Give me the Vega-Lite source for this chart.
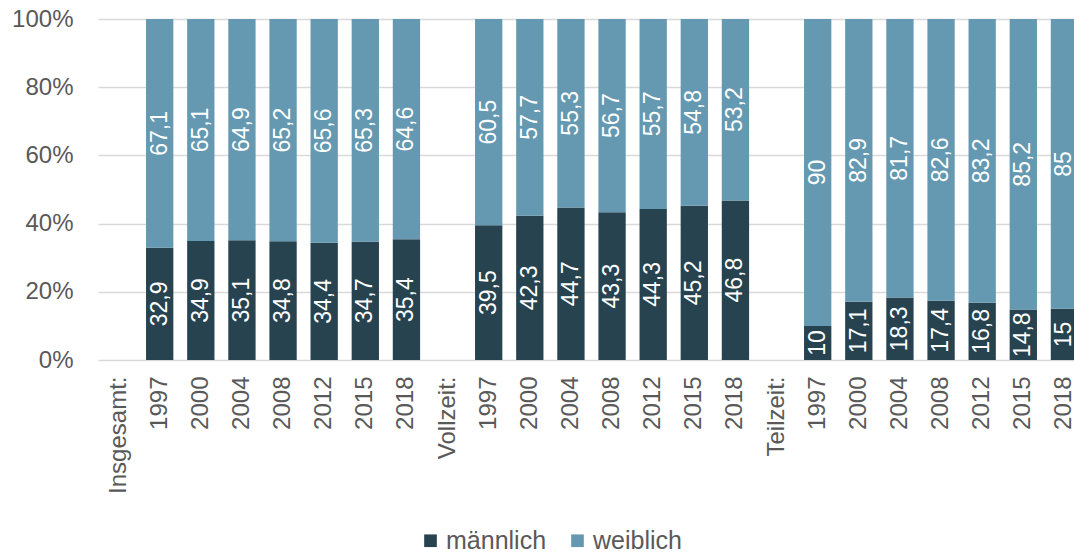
{
  "$schema": "https://vega.github.io/schema/vega-lite/v6.json",
  "autosize": {"type": "none"},
  "width": 976,
  "height": 341,
  "padding": {"left": 98, "top": 19, "right": 0, "bottom": 193},
  "config": {
    "font": "Liberation Sans",
    "view": {"stroke": null},
    "locale": {"number": {"decimal": ",", "thousands": ".", "grouping": [3], "currency": ["", " €"]}}
  },
  "data": {
    "values": [
      {"cat": "1997a", "sex": "männlich", "value": 32.9}, {"cat": "1997a", "sex": "weiblich", "value": 67.1},
      {"cat": "2000a", "sex": "männlich", "value": 34.9}, {"cat": "2000a", "sex": "weiblich", "value": 65.1},
      {"cat": "2004a", "sex": "männlich", "value": 35.1}, {"cat": "2004a", "sex": "weiblich", "value": 64.9},
      {"cat": "2008a", "sex": "männlich", "value": 34.8}, {"cat": "2008a", "sex": "weiblich", "value": 65.2},
      {"cat": "2012a", "sex": "männlich", "value": 34.4}, {"cat": "2012a", "sex": "weiblich", "value": 65.6},
      {"cat": "2015a", "sex": "männlich", "value": 34.7}, {"cat": "2015a", "sex": "weiblich", "value": 65.3},
      {"cat": "2018a", "sex": "männlich", "value": 35.4}, {"cat": "2018a", "sex": "weiblich", "value": 64.6},
      {"cat": "1997b", "sex": "männlich", "value": 39.5}, {"cat": "1997b", "sex": "weiblich", "value": 60.5},
      {"cat": "2000b", "sex": "männlich", "value": 42.3}, {"cat": "2000b", "sex": "weiblich", "value": 57.7},
      {"cat": "2004b", "sex": "männlich", "value": 44.7}, {"cat": "2004b", "sex": "weiblich", "value": 55.3},
      {"cat": "2008b", "sex": "männlich", "value": 43.3}, {"cat": "2008b", "sex": "weiblich", "value": 56.7},
      {"cat": "2012b", "sex": "männlich", "value": 44.3}, {"cat": "2012b", "sex": "weiblich", "value": 55.7},
      {"cat": "2015b", "sex": "männlich", "value": 45.2}, {"cat": "2015b", "sex": "weiblich", "value": 54.8},
      {"cat": "2018b", "sex": "männlich", "value": 46.8}, {"cat": "2018b", "sex": "weiblich", "value": 53.2},
      {"cat": "1997c", "sex": "männlich", "value": 10}, {"cat": "1997c", "sex": "weiblich", "value": 90},
      {"cat": "2000c", "sex": "männlich", "value": 17.1}, {"cat": "2000c", "sex": "weiblich", "value": 82.9},
      {"cat": "2004c", "sex": "männlich", "value": 18.3}, {"cat": "2004c", "sex": "weiblich", "value": 81.7},
      {"cat": "2008c", "sex": "männlich", "value": 17.4}, {"cat": "2008c", "sex": "weiblich", "value": 82.6},
      {"cat": "2012c", "sex": "männlich", "value": 16.8}, {"cat": "2012c", "sex": "weiblich", "value": 83.2},
      {"cat": "2015c", "sex": "männlich", "value": 14.8}, {"cat": "2015c", "sex": "weiblich", "value": 85.2},
      {"cat": "2018c", "sex": "männlich", "value": 15}, {"cat": "2018c", "sex": "weiblich", "value": 85}
    ]
  },
  "encoding": {
    "x": {
      "field": "cat",
      "type": "nominal",
      "scale": {
        "domain": ["Insgesamt:", "1997a", "2000a", "2004a", "2008a", "2012a", "2015a", "2018a",
                   "Vollzeit:", "1997b", "2000b", "2004b", "2008b", "2012b", "2015b", "2018b",
                   "Teilzeit:", "1997c", "2000c", "2004c", "2008c", "2012c", "2015c", "2018c"],
        "range": [0, 987],
        "paddingInner": 0.336,
        "paddingOuter": 0.168
      },
      "axis": {
        "title": null,
        "labelAngle": -90,
        "labelExpr": "length(datum.value) == 5 ? slice(datum.value, 0, 4) : datum.value",
        "labelFontSize": 24,
        "labelColor": "#595959",
        "labelPadding": 16,
        "ticks": false,
        "domain": false,
        "grid": false,
        "labelOverlap": false
      }
    },
    "y": {
      "field": "value",
      "type": "quantitative",
      "stack": "normalize",
      "scale": {"domain": [0, 1]},
      "axis": {
        "title": null,
        "format": ".0%",
        "values": [0, 0.2, 0.4, 0.6, 0.8, 1],
        "labelFontSize": 24,
        "labelColor": "#595959",
        "labelPadding": 25,
        "ticks": false,
        "domain": false,
        "gridColor": "#d9d9d9",
        "gridWidth": 1.3
      }
    },
    "order": {"field": "sex", "sort": "ascending"}
  },
  "layer": [
    {
      "mark": {"type": "bar"},
      "encoding": {
        "color": {
          "field": "sex",
          "type": "nominal",
          "scale": {"domain": ["männlich", "weiblich"], "range": ["#284350", "#6499b1"]},
          "legend": {
            "title": null,
            "orient": "none",
            "direction": "horizontal",
            "legendX": 320,
            "legendY": 509,
            "symbolType": "square",
            "symbolSize": 160,
            "symbolStrokeWidth": 0,
            "labelFontSize": 25,
            "labelColor": "#595959",
            "labelOffset": 3,
            "columnPadding": 18
          }
        }
      }
    },
    {
      "mark": {"type": "text", "angle": 270, "align": "center", "baseline": "middle", "color": "white", "fontSize": 23},
      "encoding": {
        "y": {"field": "value", "type": "quantitative", "stack": "normalize", "bandPosition": 0.5},
        "text": {"field": "value", "type": "quantitative", "format": ".1~f"}
      }
    }
  ]
}
